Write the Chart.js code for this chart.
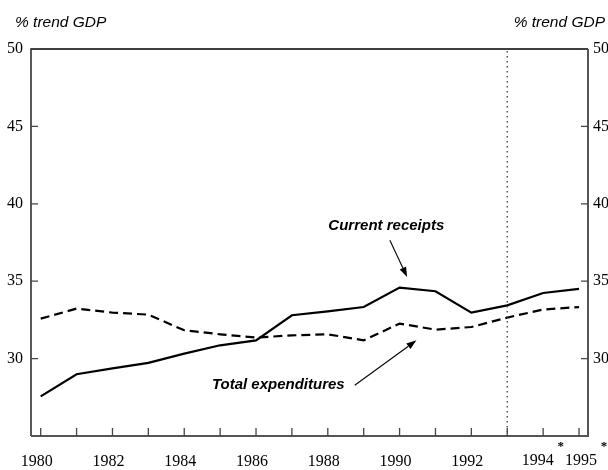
<!DOCTYPE html>
<html lang="en">
<head>
<meta charset="UTF-8">
<title>Current receipts and total expenditures</title>
<script src="https://cdn.jsdelivr.net/npm/chart.js@4.4.1/dist/chart.umd.min.js"></script>
<style>
    html, body { margin: 0; padding: 0; background: #fff; }
    #wrap { width: 608px; height: 470px; position: relative; }
</style>
</head>
<body>
<div id="wrap"><canvas id="chart"></canvas></div>
<script>
// Years on the x axis
const years = [1980, 1981, 1982, 1983, 1984, 1985, 1986, 1987, 1988, 1989, 1990, 1991, 1992, 1993, 1994, 1995];
// % of trend GDP
const currentReceipts = [27.56, 28.99, 29.37, 29.72, 30.32, 30.86, 31.18, 32.8, 33.05, 33.33, 34.59, 34.35, 32.97, 33.44, 34.24, 34.5];
const totalExpenditures = [32.58, 33.23, 32.97, 32.84, 31.83, 31.57, 31.36, 31.5, 31.57, 31.18, 32.26, 31.87, 32.04, 32.65, 33.17, 33.33];
// tick labels
const yTicks = [30, 35, 40, 45, 50];
const xLabels = ['1980', '1982', '1984', '1986', '1988', '1990', '1992', '1994', '1995'];
const xLabelYears = [1980, 1982, 1984, 1986, 1988, 1990, 1992, 1994, 1995];
const starredYears = [1994, 1995];
const forecastStart = 1993;

const serif = '"Liberation Serif", "DejaVu Serif", serif';
const sans = '"Liberation Sans", Arial, sans-serif';

function arrow(ctx, x1, y1, x2, y2) {
    const a = Math.atan2(y2 - y1, x2 - x1);
    const len = 10, w = 3.5;
    ctx.beginPath();
    ctx.moveTo(x1, y1);
    ctx.lineTo(x2 - len * Math.cos(a), y2 - len * Math.sin(a));
    ctx.stroke();
    ctx.beginPath();
    ctx.moveTo(x2, y2);
    ctx.lineTo(x2 - len * Math.cos(a) + w * Math.sin(a), y2 - len * Math.sin(a) - w * Math.cos(a));
    ctx.lineTo(x2 - len * Math.cos(a) - w * Math.sin(a), y2 - len * Math.sin(a) + w * Math.cos(a));
    ctx.closePath();
    ctx.fill();
}

const decorPlugin = {
    id: 'decor',
    afterDraw(chart) {
        const ctx = chart.ctx;
        const xs = chart.scales.x, ys = chart.scales.y;
        const a = chart.chartArea;
        ctx.save();

        // vertical dotted line where projections start
        const fx = xs.getPixelForValue(forecastStart);
        ctx.strokeStyle = '#555';
        ctx.lineWidth = 1.5;
        ctx.setLineDash([1.5, 3.5]);
        ctx.beginPath();
        ctx.moveTo(fx, a.top + 2);
        ctx.lineTo(fx, a.bottom);
        ctx.stroke();
        ctx.setLineDash([]);

        // frame: top/left black, right/bottom grey
        ctx.strokeStyle = '#000';
        ctx.lineWidth = 1.3;
        ctx.beginPath();
        ctx.moveTo(a.left, a.bottom);
        ctx.lineTo(a.left, a.top);
        ctx.lineTo(a.right, a.top);
        ctx.stroke();
        ctx.strokeStyle = '#555';
        ctx.lineWidth = 2;
        ctx.beginPath();
        ctx.moveTo(a.right, a.top);
        ctx.lineTo(a.right, a.bottom);
        ctx.lineTo(a.left, a.bottom);
        ctx.stroke();

        // inward ticks
        ctx.lineWidth = 1.3;
        ctx.strokeStyle = '#444';
        years.forEach(yr => {
            const px = xs.getPixelForValue(yr);
            ctx.beginPath();
            ctx.moveTo(px, a.bottom);
            ctx.lineTo(px, a.bottom - 8);
            ctx.stroke();
        });
        yTicks.forEach(v => {
            const py = ys.getPixelForValue(v);
            ctx.beginPath();
            ctx.moveTo(a.left, py);
            ctx.lineTo(a.left + 7, py);
            ctx.moveTo(a.right, py);
            ctx.lineTo(a.right - 7, py);
            ctx.stroke();
        });

        // tick labels
        ctx.fillStyle = '#000';
        ctx.font = '16px ' + serif;
        ctx.textBaseline = 'middle';
        yTicks.forEach(v => {
            const py = ys.getPixelForValue(v);
            ctx.textAlign = 'right';
            ctx.fillText(String(v), a.left - 8, py);
            ctx.textAlign = 'left';
            ctx.fillText(String(v), a.right + 5, py);
        });
        ctx.textAlign = 'center';
        xLabels.forEach((lab, i) => {
            const yr = xLabelYears[i];
            let shift = -4;
            if (yr === 1994) shift = -5.5;
            if (yr === 1995) shift = 2;
            const px = xs.getPixelForValue(yr) + shift;
            const py = starredYears.includes(yr) ? 460.5 : 461.5;
            ctx.fillText(lab, px, py);
            if (starredYears.includes(yr)) {
                ctx.font = 'bold 13px ' + serif;
                ctx.fillText('*', px + 23, 447);
                ctx.font = '16px ' + serif;
            }
        });

        // unit labels
        ctx.font = 'italic 15.5px ' + sans;
        ctx.textAlign = 'left';
        ctx.fillText('% trend GDP', 15, 23);
        ctx.textAlign = 'right';
        ctx.fillText('% trend GDP', 605, 23);

        // series annotations
        ctx.font = 'bold italic 15px ' + sans;
        ctx.textAlign = 'center';
        ctx.fillText('Current receipts', xs.getPixelForValue(1989.63), ys.getPixelForValue(38.57));
        ctx.fillText('Total expenditures', xs.getPixelForValue(1986.62), ys.getPixelForValue(28.28));

        ctx.strokeStyle = '#000';
        ctx.fillStyle = '#000';
        ctx.lineWidth = 1.1;
        arrow(ctx, xs.getPixelForValue(1989.73), ys.getPixelForValue(37.64),
                   xs.getPixelForValue(1990.21), ys.getPixelForValue(35.27));
        arrow(ctx, xs.getPixelForValue(1988.75), ys.getPixelForValue(28.28),
                   xs.getPixelForValue(1990.47), ys.getPixelForValue(31.18));
        ctx.restore();
    }
};

new Chart(document.getElementById('chart'), {
    type: 'line',
    data: {
        datasets: [
            {
                label: 'Current receipts',
                data: years.map((y, i) => ({ x: y, y: currentReceipts[i] })),
                borderColor: '#000',
                borderWidth: 2.2,
                pointRadius: 0,
                tension: 0
            },
            {
                label: 'Total expenditures',
                data: years.map((y, i) => ({ x: y, y: totalExpenditures[i] })),
                borderColor: '#000',
                borderWidth: 2.2,
                borderDash: [9, 5],
                pointRadius: 0,
                tension: 0
            }
        ]
    },
    options: {
        responsive: true,
        maintainAspectRatio: false,
        animation: false,
        layout: { padding: { left: 31, top: 49, right: 20, bottom: 34 } },
        plugins: { legend: { display: false }, tooltip: { enabled: false } },
        scales: {
            x: { type: 'linear', min: 1979.73, max: 1995.25, display: false },
            y: { type: 'linear', min: 25, max: 50, display: false }
        }
    },
    plugins: [decorPlugin]
});
</script>
</body>
</html>
